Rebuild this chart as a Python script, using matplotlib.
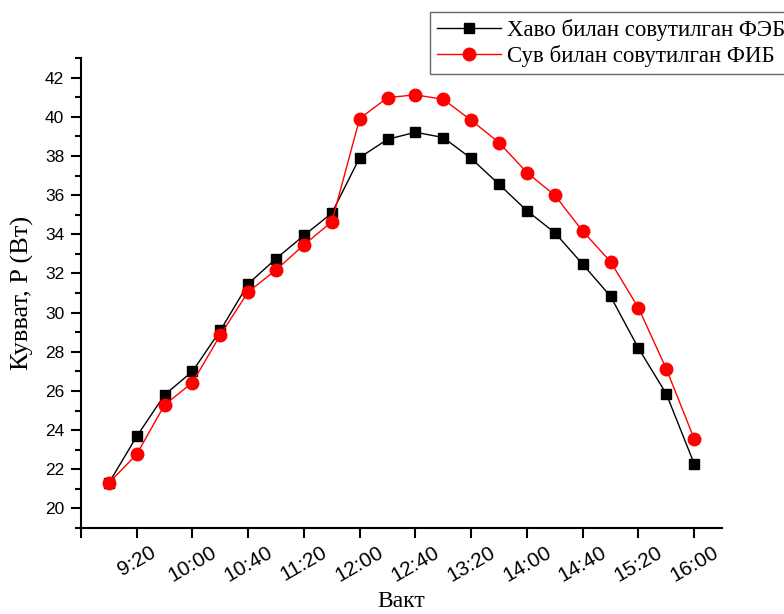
import matplotlib
matplotlib.use('Agg')
import matplotlib.pyplot as plt
from matplotlib.ticker import MultipleLocator

# Measurement times and power of the two panels
times = ['9:00', '9:20', '9:40', '10:00', '10:20', '10:40', '11:00', '11:20',
         '11:40', '12:00', '12:20', '12:40', '13:00', '13:20', '13:40', '14:00',
         '14:20', '14:40', '15:00', '15:20', '15:40', '16:00']
air_cooled = [21.3, 23.68, 25.8, 27.0, 29.09, 31.47, 32.76, 33.94, 35.08, 37.92,
              38.85, 39.21, 38.94, 37.87, 36.55, 35.2, 34.08, 32.47, 30.83, 28.18,
              25.85, 22.28]
water_cooled = [21.3, 22.77, 25.29, 26.43, 28.86, 31.06, 32.18, 33.46, 34.64, 39.91,
                40.98, 41.12, 40.89, 39.82, 38.68, 37.15, 35.99, 34.16, 32.6, 30.24,
                27.13, 23.55]
tick_labels = ['', '9:20', '10:00', '10:40', '11:20', '12:00', '12:40', '13:20',
               '14:00', '14:40', '15:20', '16:00']
air_label = 'Хаво билан совутилган ФЭБ'
water_label = 'Сув билан совутилган ФИБ'


def to_min(t):
    h, m = t.split(':')
    return int(h) * 60 + int(m)


x = [to_min(t) for t in times]
tick_pos = [to_min('8:40') + 40 * i for i in range(len(tick_labels))]

fig = plt.figure(figsize=(7.84, 6.14), dpi=100)
ax = fig.add_axes([0.1033, 0.140, 0.8177, 0.7655])

ax.plot(x, air_cooled, color='black', lw=1, marker='s', ms=7.8,
        label=air_label, zorder=3)
ax.plot(x, water_cooled, color='red', lw=1, marker='o', ms=9,
        label=water_label, zorder=4)

ax.set_xlim(to_min('8:40'), to_min('16:20'))
ax.set_ylim(19, 43)
ax.set_xticks(tick_pos)
ax.set_xticklabels(tick_labels, rotation=30, ha='center',
                   family='Liberation Sans', fontsize=15)
ax.yaxis.set_major_locator(MultipleLocator(2))
ax.yaxis.set_minor_locator(MultipleLocator(1))
ax.set_yticks(range(20, 43, 2))
for lab in ax.get_yticklabels():
    lab.set_family('Liberation Sans')
    lab.set_fontsize(12.5)

for side in ('top', 'right'):
    ax.spines[side].set_visible(False)
for side in ('left', 'bottom'):
    ax.spines[side].set_linewidth(1.5)
ax.tick_params(which='major', direction='out', length=7, width=1.5)
ax.tick_params(which='minor', direction='out', length=4, width=1.5)
ax.tick_params(axis='y', pad=5)

ax.set_xlabel('Вакт', family='Liberation Serif', fontsize=17, labelpad=4)
ax.set_ylabel('Кувват, P (Вт)', family='Liberation Serif', fontsize=19, labelpad=8)

leg = fig.legend(loc='upper left', bbox_to_anchor=(430 / 784, 1 - 12 / 614),
                 prop={'family': 'Liberation Serif', 'size': 16.5},
                 numpoints=1, handlelength=2.8, fancybox=False,
                 borderpad=0.3, labelspacing=0.2, handletextpad=0.26,
                 borderaxespad=0)
leg.get_frame().set_edgecolor('#444444')
leg.get_frame().set_linewidth(1.0)

fig.savefig('out.png', dpi=100)
